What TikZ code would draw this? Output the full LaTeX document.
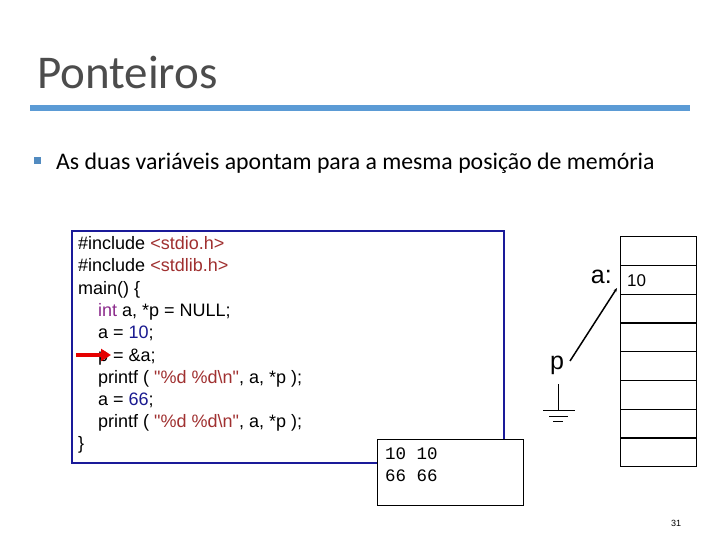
\documentclass[tikz,border=0pt]{standalone}
\usepackage{fontspec}
\setmainfont{Liberation Sans}
\newfontfamily\calfnt{Carlito}
\newfontfamily\courfnt{Liberation Mono}
\usetikzlibrary{arrows.meta}
\definecolor{strc}{HTML}{A03030}
\definecolor{kwc}{HTML}{8B2A8B}
\definecolor{numc}{HTML}{1A1A90}
\definecolor{boxb}{HTML}{1A1A99}
\definecolor{rule}{HTML}{5B9BD5}
\newcommand{\qq}{\textquotedbl}
\begin{document}
\begin{tikzpicture}[x=1pt,y=-1pt,
  code/.style={anchor=base west,inner sep=0pt,font=\fontsize{18}{18}\selectfont},
  cell/.style={draw,line width=1.3pt,minimum width=76pt,minimum height=28.75pt,inner sep=0pt,anchor=north west}]
\useasboundingbox (0,0) rectangle (720,540);
\node[anchor=west,inner sep=0pt,text=black!70,font=\calfnt\fontsize{47}{47}\selectfont] (title) at (37,73) {Ponteiros};
\draw[rule,line width=6pt] (30,108) -- (690,108);
\node[fill=rule!90!black,minimum size=7pt,inner sep=0pt] (bul) at (37,161) {};
\node[anchor=west,inner sep=0pt,font=\calfnt\fontsize{23.8}{24}\selectfont] (bt) at (56,163) {As duas variáveis apontam para a mesma posição de memória};
% code box
\node[draw=boxb,line width=2pt,fill=white,minimum width=432pt,minimum height=232pt,anchor=north west,inner sep=0pt] (cbox) at (71,230) {};
\node[code] (l1) at (78,249) {\#include \textcolor{strc}{<stdio.h>}};
\node[code] (l2) at (78,271) {\#include \textcolor{strc}{<stdlib.h>}};
\node[code] (l3) at (78,294) {main() \{};
\node[code] (l4) at (98,316) {\textcolor{kwc}{int} a, *p = NULL;};
\node[code] (l5) at (98,338) {a = \textcolor{numc}{10};};
\node[code] (l6) at (98,361) {p = \&a;};
\node[code] (l7) at (98,383) {printf ( \textcolor{strc}{\qq\%d \%d\textbackslash n\qq}, a, *p );};
\node[code] (l8) at (98,405) {a = \textcolor{numc}{66};};
\node[code] (l9) at (98,427) {printf ( \textcolor{strc}{\qq\%d \%d\textbackslash n\qq}, a, *p );};
\node[code] (l10) at (78,449) {\}};
\coordinate (ra) at (76,355);
\coordinate (rb) at (111,355);
\draw[red!90!black,line width=3.5pt,-{Triangle[length=10pt,width=12pt]}] (ra) -- (rb);
% output box
\node[draw,line width=1.3pt,fill=white,minimum width=146pt,minimum height=66pt,anchor=north west,inner sep=0pt] (obox) at (377,439) {};
\node[anchor=base west,inner sep=0pt,font=\courfnt\fontsize{17.5}{17.5}\selectfont] (o1) at (385,459) {10 10};
\node[anchor=base west,inner sep=0pt,font=\courfnt\fontsize{17.5}{17.5}\selectfont] (o2) at (385,481) {66 66};
% memory
\foreach \i in {0,...,7} \node[cell] (m\i) at (620,{236+28.75*\i}) {};
\node[anchor=west,inner sep=0pt,font=\fontsize{17}{17}\selectfont] (v) at (627,281) {10};
\node[anchor=east,inner sep=0pt,font=\fontsize{25}{25}\selectfont] (al) at (612,277) {a:};
\node[inner sep=0pt,font=\fontsize{25}{25}\selectfont] (p) at (557,365) {p};
\coordinate (pa) at (570,361);
\coordinate (aa) at (617,288);
\draw[line width=1.5pt,-{Stealth[length=4pt]}] (pa) -- (aa);
\coordinate (g0) at (558,384);
\coordinate (g1) at (558,410);
\draw (g0) -- (g1);
\draw (543,410) -- (575,410) (549,416) -- (568,416) (553,421) -- (563,421);
\node[inner sep=0pt,font=\fontsize{9}{9}\selectfont] (pg) at (676,523) {31};
\end{tikzpicture}
\end{document}
